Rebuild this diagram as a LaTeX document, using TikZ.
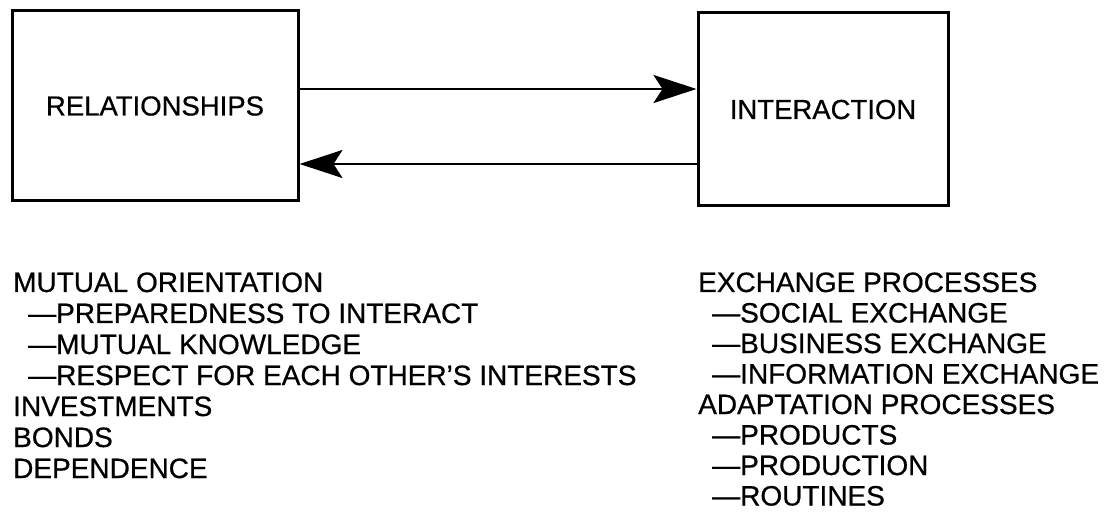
\documentclass[tikz,border=0pt]{standalone}
\usepackage{fontspec}
\setmainfont{Liberation Sans}
\newfontfamily\scanfont[FakeBold=0.6]{Liberation Sans}
\usetikzlibrary{arrows.meta}
\begin{document}
\begin{tikzpicture}[x=1pt,y=-1pt,
  boxstyle/.style={draw, line width=3pt, inner sep=0pt, font=\scanfont\fontsize{27.5}{30}\selectfont},
  flow/.style={line width=2.6pt, -{Stealth[length=43pt,width=28pt,inset=9pt]}},
  item/.style={font=\scanfont\fontsize{28}{30}\selectfont, inner sep=0pt, anchor=base west}]
\useasboundingbox (0,0) rectangle (1111,521);
\node[boxstyle, minimum width=286pt, minimum height=190pt] (rel) at (155,106) {RELATIONSHIPS};
\node[boxstyle, minimum width=250pt, minimum height=193pt] (int) at (823,109.5) {INTERACTION};
\draw[flow] (rel.east |- 0,89) -- (int.west |- 0,89);
\draw[flow] (int.west |- 0,164) -- (rel.east |- 0,164);
% left list
\node[item] (l1) at (13,292) {MUTUAL ORIENTATION};
\node[item] (l2) at (28,323) {—PREPAREDNESS TO INTERACT};
\node[item] (l3) at (28,354) {—MUTUAL KNOWLEDGE};
\node[item] (l4) at (28,385) {—RESPECT FOR EACH OTHER’S INTERESTS};
\node[item] (l5) at (13,416) {INVESTMENTS};
\node[item] (l6) at (13,447) {BONDS};
\node[item] (l7) at (13,478) {DEPENDENCE};
% right list
\node[item] (r1) at (698,292) {EXCHANGE PROCESSES};
\node[item] (r2) at (712,322.5) {—SOCIAL EXCHANGE};
\node[item] (r3) at (712,353) {—BUSINESS EXCHANGE};
\node[item] (r4) at (712,383.5) {—INFORMATION EXCHANGE};
\node[item] (r5) at (698,414) {ADAPTATION PROCESSES};
\node[item] (r6) at (712,444.5) {—PRODUCTS};
\node[item] (r7) at (712,475) {—PRODUCTION};
\node[item] (r8) at (712,505.5) {—ROUTINES};
\end{tikzpicture}
\end{document}
